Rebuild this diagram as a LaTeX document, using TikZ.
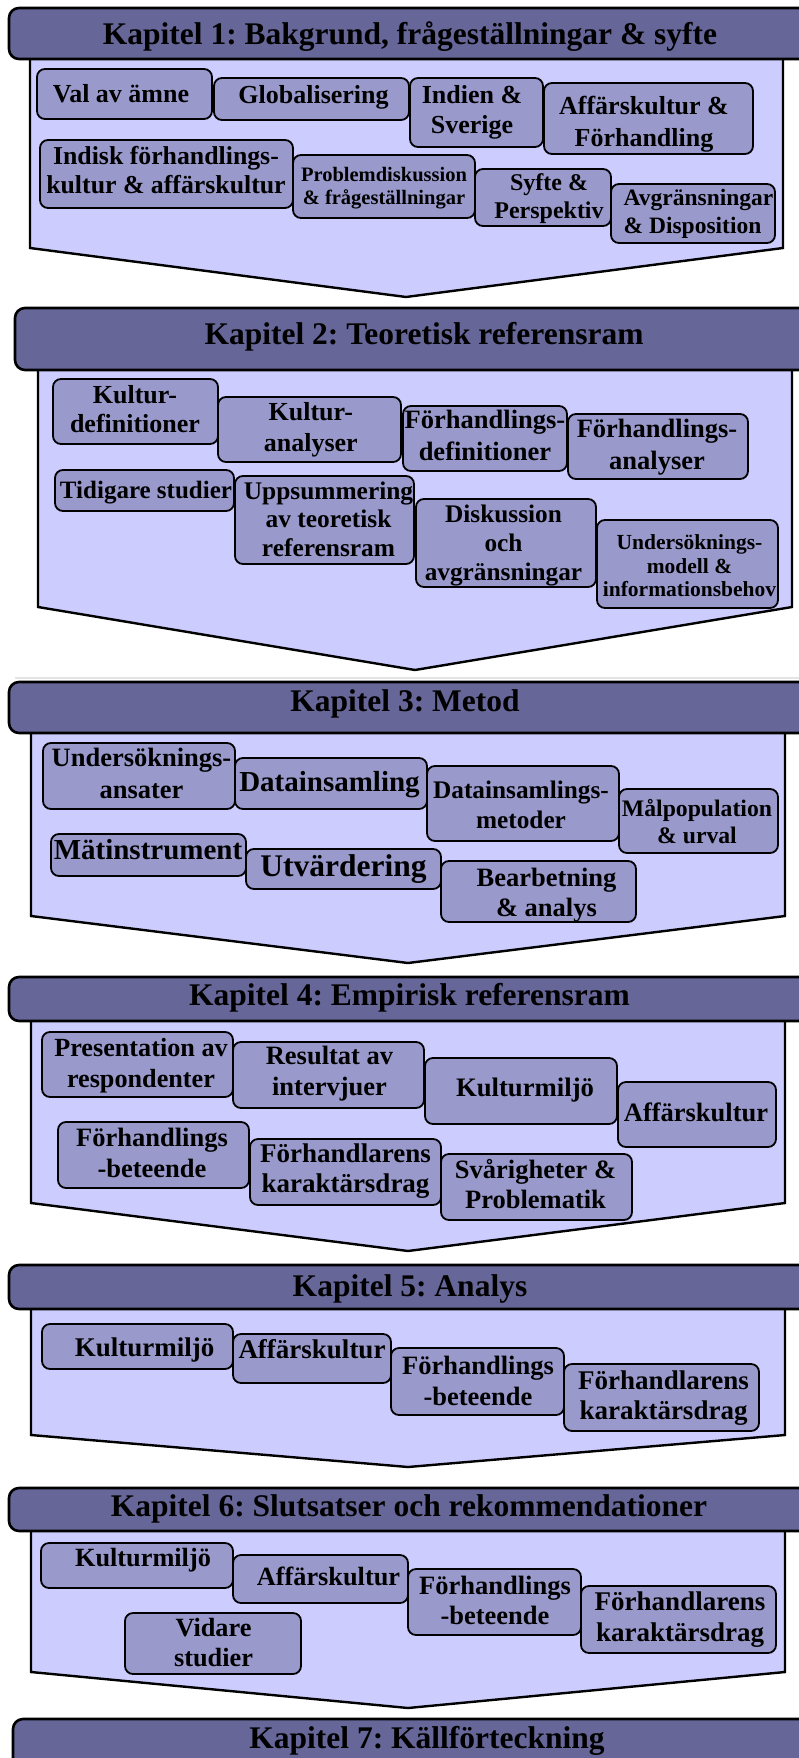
\documentclass[tikz,border=0pt]{standalone}
\usepackage{fontspec}
\setmainfont{Liberation Serif}

\definecolor{headfill}{HTML}{666699}
\definecolor{bodyfill}{HTML}{CCCCFF}
\definecolor{boxfill}{HTML}{9999CC}

% line box of the serif face: ascent 0.891em, descent 0.216em
\newcommand\tstrut{\rule[-0.216em]{0pt}{1.107em}}

\tikzset{
  chead/.style={draw=black, line width=2.6pt, fill=headfill, rounded corners=10pt, inner sep=0pt},
  cbody/.style={draw=black, line width=2.4pt, fill=bodyfill, line join=miter},
  bx/.style={draw=black, line width=1.8pt, fill=boxfill, rounded corners=8pt, inner sep=0pt},
  lbl/.style={inner sep=0pt, align=center, text=black},
  lblx/.style={}
}

% topic box: name, x1, y1, x2, y2, {size}{skip}, text x, text y, text
\newcommand\cbox[9]{%
  \pgfmathsetmacro\cbw{#4-#2}%
  \pgfmathsetmacro\cbh{#5-#3}%
  \pgfmathsetmacro\cbx{(#2+#4)/2}%
  \pgfmathsetmacro\cby{(#3+#5)/2}%
  \pgfmathsetmacro\cbdx{#7-\cbx}%
  \pgfmathsetmacro\cbdy{#8-\cby}%
  \node[bx, minimum width=\cbw pt, minimum height=\cbh pt,
        label={[lbl, lblx, font=\fontsize#6\selectfont\bfseries, shift={(\cbdx,\cbdy)}]center:{\tstrut #9\tstrut}}]
        (#1) at (\cbx,\cby) {};}

% chapter bar: name, x1, y1, x2, y2, text x, text y, text
\newcommand\chead[8]{%
  \pgfmathsetmacro\cbw{#4-#2}%
  \pgfmathsetmacro\cbh{#5-#3}%
  \pgfmathsetmacro\cbx{(#2+#4)/2}%
  \pgfmathsetmacro\cby{(#3+#5)/2}%
  \pgfmathsetmacro\cbdx{#6-\cbx}%
  \pgfmathsetmacro\cbdy{#7-\cby}%
  \node[chead, minimum width=\cbw pt, minimum height=\cbh pt,
        label={[lbl, font=\fontsize{31.5}{36}\selectfont\bfseries, shift={(\cbdx,\cbdy)}]center:{\tstrut #8\tstrut}}]
        (#1) at (\cbx,\cby) {};}

% chapter body arrow: left, top, side bottom, right, tip x, tip y
\newcommand\cbodyshape[6]{%
  \draw[cbody] (#1,#2) -- (#1,#3) -- (#5,#6) -- (#4,#3) -- (#4,#2) -- cycle;}

\frenchspacing

\begin{document}
\begin{tikzpicture}[x=1pt, y=-1pt]
\useasboundingbox (0,0) rectangle (799,1758);
\fill[white] (0,0) rectangle (799,1758);

% ---------- Kapitel 1 ----------
\cbodyshape{30}{55}{248}{783}{406}{297}
\chead{k1}{9}{8}{840}{59}{410}{34.4}{Kapitel 1: Bakgrund, frågeställningar \& syfte}
\cbox{b11}{37}{69}{212}{119}{{26}{30}}{121}{94.2}{Val av ämne}
\cbox{b12}{214}{78}{409}{120}{{26}{30}}{313.5}{95}{Globalisering}
\cbox{b13}{410}{78}{543}{147}{{26}{30}}{472}{109.5}{Indien \&\\Sverige}
\cbox{b14}{544}{83}{753}{154}{{26}{31.5}}{644}{122}{Affärskultur \&\\Förhandling}
\cbox{b15}{40}{140}{293}{208}{{25.8}{29.3}}{166}{170}{Indisk förhandlings-\\kultur \& affärskultur}
\cbox{b16}{293}{155}{475}{218}{{20.5}{23.3}}{384}{186.4}{Problemdiskussion\\\& frågeställningar}
\cbox{b17}{475}{169}{611}{226}{{24}{27.7}}{549}{196.4}{Syfte \&\\Perspektiv}
{\tikzset{lblx/.style={align=left}}%
\cbox{b18}{611}{184}{775}{243}{{23.5}{28.3}}{698.5}{211.3}{Avgränsningar\\\& Disposition}}

% ---------- Kapitel 2 ----------
\cbodyshape{38}{350}{607}{792}{415}{670}
\chead{k2}{15}{308}{840}{370}{424}{333.4}{Kapitel 2: Teoretisk referensram}
\cbox{b21}{53}{379}{218}{444}{{26}{29.3}}{135}{409.2}{Kultur-\\definitioner}
\cbox{b22}{218}{397}{401}{462}{{26}{30.7}}{310.8}{427.5}{Kultur-\\analyser}
\cbox{b23}{403}{406}{567}{471}{{26.5}{32}}{485}{435.7}{Förhandlings-\\definitioner}
\cbox{b24}{568}{414}{748}{479}{{26.5}{31.3}}{657}{444.6}{Förhandlings-\\analyser}
\cbox{b25}{55}{470}{234}{511}{{25}{29}}{146}{489.9}{Tidigare studier}
\cbox{b26}{235}{476}{414}{564}{{25.4}{28.7}}{328.5}{519.4}{Uppsummering\\av teoretisk\\referensram}
\cbox{b27}{416}{499}{596}{587}{{25.3}{28.7}}{503.5}{542.9}{Diskussion\\och\\avgränsningar}
\cbox{b28}{597}{520}{778}{608}{{21.5}{23.3}}{689.5}{566}{Undersöknings-\\modell \&\\informationsbehov}

\draw[gray!22, line width=1.2pt] (15,678) -- (799,678);

% ---------- Kapitel 3 ----------
\cbodyshape{31}{710}{916}{785}{408}{963}
\chead{k3}{9}{682}{840}{733}{405}{701}{Kapitel 3: Metod}
\cbox{b31}{43}{743}{235}{809}{{26.5}{31.7}}{141.5}{773.6}{Undersöknings-\\ansater}
\cbox{b32}{235}{758}{427}{809}{{29}{33}}{329.5}{781.9}{Datainsamling}
\cbox{b33}{427}{766}{619}{841}{{25.3}{30}}{521}{804.8}{Datainsamlings-\\metoder}
\cbox{b34}{619}{789}{778}{853}{{23.7}{26.7}}{697}{822}{Målpopulation\\\& urval}
\cbox{b35}{51}{834}{246}{876}{{29}{33}}{148}{850.2}{Mätinstrument}
\cbox{b36}{246}{849}{441}{889}{{31.5}{36}}{343.5}{866}{Utvärdering}
\cbox{b37}{441}{861}{636}{922}{{26.5}{29.3}}{546.5}{892.5}{Bearbetning\\\& analys}

% ---------- Kapitel 4 ----------
\cbodyshape{31}{1000}{1203}{785}{408}{1251}
\chead{k4}{9}{977}{840}{1021}{409.5}{994.4}{Kapitel 4: Empirisk referensram}
\cbox{b41}{42}{1032}{233}{1097}{{26.2}{30.7}}{141}{1063.2}{Presentation av\\respondenter}
\cbox{b42}{233}{1042}{424}{1108}{{26.5}{31}}{329.5}{1070.7}{Resultat av\\intervjuer}
\cbox{b43}{425}{1058}{617}{1124}{{26.7}{30}}{525}{1087.9}{Kulturmiljö}
\cbox{b44}{618}{1082}{776}{1147}{{26.5}{30}}{696}{1112.9}{Affärskultur}
\cbox{b45}{58}{1122}{249}{1188}{{26.5}{30.7}}{152}{1153.2}{Förhandlings\\-beteende}
\cbox{b46}{250}{1139}{441}{1205}{{27}{30}}{345.5}{1168.9}{Förhandlarens\\karaktärsdrag}
\cbox{b47}{441}{1154}{632}{1220}{{26.5}{30}}{535.5}{1184.5}{Svårigheter \&\\Problematik}

% ---------- Kapitel 5 ----------
\cbodyshape{31}{1290}{1435}{785}{408}{1467}
\chead{k5}{9}{1265}{840}{1309}{410}{1286}{Kapitel 5: Analys}
\cbox{b51}{42}{1324}{233}{1369}{{27}{30}}{144.5}{1347.6}{Kulturmiljö}
\cbox{b52}{233}{1334}{391}{1383}{{27}{30}}{312}{1349.2}{Affärskultur}
\cbox{b53}{391}{1348}{564}{1415}{{26.5}{28}}{478}{1381.1}{Förhandlings\\-beteende}
\cbox{b54}{564}{1364}{759}{1431}{{27}{30}}{663.5}{1395.9}{Förhandlarens\\karaktärsdrag}

% ---------- Kapitel 6 ----------
\cbodyshape{31}{1510}{1672}{785}{408}{1708}
\chead{k6}{9}{1488}{840}{1531}{409}{1506}{Kapitel 6: Slutsatser och rekommendationer}
\cbox{b61}{41}{1543}{233}{1588}{{26.3}{30}}{143}{1557.9}{Kulturmiljö}
\cbox{b62}{233}{1555}{408}{1603}{{26.3}{30}}{328.5}{1576.2}{Affärskultur}
\cbox{b63}{408}{1569}{581}{1635}{{26.5}{28.3}}{495}{1600.3}{Förhandlings\\-beteende}
\cbox{b64}{581}{1586}{776}{1653}{{27}{29}}{680}{1617.1}{Förhandlarens\\karaktärsdrag}
\cbox{b65}{125}{1613}{301}{1674}{{26.3}{30}}{213.5}{1642.9}{Vidare\\studier}

% ---------- Kapitel 7 ----------
\chead{k7}{13}{1719}{840}{1800}{427}{1737.7}{Kapitel 7: Källförteckning}

\end{tikzpicture}
\end{document}
